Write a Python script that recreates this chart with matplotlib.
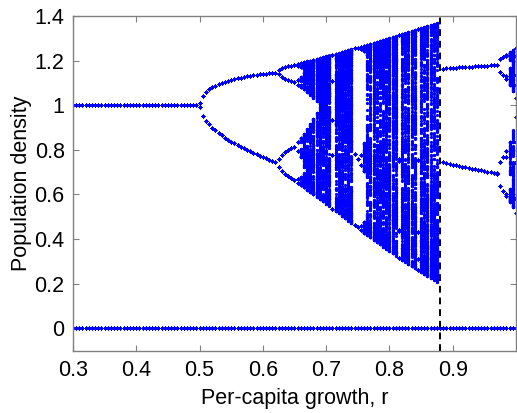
import numpy as np
import matplotlib
matplotlib.use('Agg')
import matplotlib.pyplot as plt

# Axis range and sweep of the per-capita growth rate
r_start = 0.3
r_end = 1.0
r_step = 0.005
r_crit = 0.88            # dashed line: chaotic band hits the Allee threshold

# Ricker map with Allee threshold (r <= r_crit)
allee = 0.2
# Attractor that remains after the crisis (r > r_crit): gain at a few r values
right_r_knots = [0.885, 0.97, 1.0]
right_gain_knots = [2.35, 2.50, 2.75]

x_start = 0.5
n_transient = 500
n_keep = 300

x_ticks = [0.3, 0.4, 0.5, 0.6, 0.7, 0.8, 0.9]
y_ticks = [0, 0.2, 0.4, 0.6, 0.8, 1, 1.2, 1.4]
y_tick_labels = ['0', '0.2', '0.4', '0.6', '0.8', '1', '1.2', '1.4']


def allee_ricker(x, r):
    return x * np.exp(r * (1 - x) * (x - allee) / allee)


def right_map(x, b):
    return x * np.exp(b * x * (1 - x))


def orbit(step, p, x0):
    x = np.full(len(p), x0, dtype=float)
    for _ in range(n_transient):
        x = step(x, p)
    out = np.empty((n_keep, len(p)))
    for i in range(n_keep):
        x = step(x, p)
        out[i] = x
    return out


r_all = np.round(np.arange(r_start, r_end + r_step / 2, r_step), 4)
r_left = r_all[r_all <= r_crit]
r_right = r_all[r_all > r_crit]

x_left = orbit(allee_ricker, r_left, x_start)
x_right = orbit(right_map, np.interp(r_right, right_r_knots, right_gain_knots), 0.9)
x_zero = orbit(allee_ricker, r_all, 0.0)

plt.rcParams['font.family'] = ['Liberation Sans', 'DejaVu Sans']

fig = plt.figure(figsize=(5.17, 4.13), dpi=100)
ax = fig.add_axes([0.1412, 0.1513, 0.8568, 0.81])

dot = dict(linestyle='none', marker='o', markersize=2.3, markeredgewidth=0,
           color=(0, 0, 1))
ax.plot(np.tile(r_left, n_keep), x_left.ravel(), **dot)
ax.plot(np.tile(r_right, n_keep), x_right.ravel(), **dot)
ax.plot(np.tile(r_all, n_keep), x_zero.ravel(), **dot)

ax.axvline(r_crit, color='black', linestyle=(0, (3.5, 2.5)), linewidth=1.4)

ax.set_xlim(r_start, r_end)
ax.set_ylim(-0.1, 1.4)
ax.set_xticks(x_ticks)
ax.set_xticklabels([f'{t:g}' for t in x_ticks])
ax.set_yticks(y_ticks)
ax.set_yticklabels(y_tick_labels)

grey = '#808080'
for s in ax.spines.values():
    s.set_color(grey)
    s.set_linewidth(1.0)
ax.tick_params(direction='in', length=4, width=0.8, color=grey,
               labelsize=15.5, top=True, right=True, pad=7)
ax.tick_params(axis='y', pad=6)

ax.set_xlabel('Per-capita growth, r', fontsize=15.5, labelpad=5)
ax.set_ylabel('Population density', fontsize=15.5, labelpad=2)

fig.savefig('out.png', dpi=100)
